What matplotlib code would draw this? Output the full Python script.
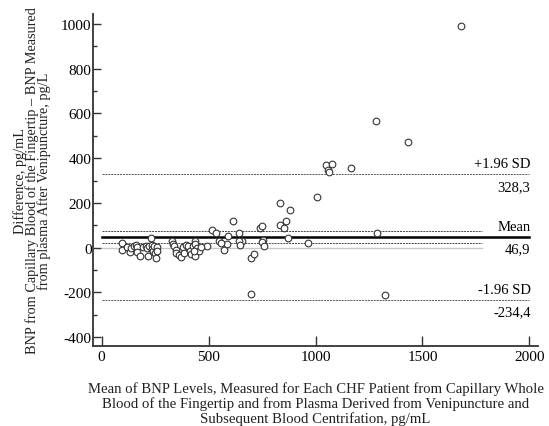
import matplotlib
matplotlib.use("Agg")
import matplotlib.pyplot as plt
from matplotlib.ticker import MultipleLocator

plt.rcParams['font.family'] = ['Liberation Serif', 'DejaVu Serif']
plt.rcParams['axes.unicode_minus'] = False

# mean of the two methods (x) and their difference (y), pg/mL
mean_bnp = [
    1682, 1282, 1433, 1048, 1079, 1058, 1064, 1164, 1009, 832, 880, 860,
    836, 853, 871, 1288, 1326, 964, 699, 699, 712, 615, 643, 740, 748,
    755, 748, 757, 657, 643, 646, 592, 584, 570, 550, 556, 514, 533, 495,
    329, 332, 338, 346, 350, 360, 369, 379, 386, 394, 402, 413, 420, 428,
    436, 439, 438, 448, 456, 464, 434,
    97, 97, 121, 132, 136, 151, 160, 164, 167, 182, 195, 207, 213, 218,
    223, 229, 234, 237, 241, 246, 249, 254, 257, 257,
]
diff_bnp = [
    990, 565, 471, 371, 373, 349, 337, 355, 228, 198, 167, 121,
    100, 88, 45, 66, -213, 19, -206, -46, -27, 118, 66, 86, 98,
    36, 27, 7, 28, 28, 12, 54, 15, -12, 31, 19, 78, 66, 6,
    28, 16, 6, -9, -24, -33, -40, 1, -25, 12, 9, -16, -28, 6,
    31, 16, -36, -3, -13, 4, -13,
    22, -12, 3, -21, 0, 9, 12, 3, -21, -36, 1, 6, 0, -39,
    9, 45, 12, -6, -15, 6, -24, -48, 1, -13,
]

mean_diff = 46.9
upper_loa = 328.3
lower_loa = -234.4
mean_ci = [19, 73]

fig = plt.figure(figsize=(5.49, 4.27), dpi=100)
ax = fig.add_axes([0.1694, 0.1874, 0.8106, 0.7775])

# reference lines
ax.plot([0, 1780], [0, 0], color='#c8c8c8', lw=1.0, zorder=1)
for c in mean_ci:
    ax.plot([0, 1780], [c, c], color='#444444', lw=0.7,
            linestyle=(0, (2, 1)), zorder=1)
ax.plot([0, 2000], [mean_diff, mean_diff], color='black', lw=1.8, zorder=2)
for v in (upper_loa, lower_loa):
    ax.plot([0, 2000], [v, v], color='#555555', lw=0.7,
            linestyle=(0, (2, 1)), zorder=1)

ax.scatter(mean_bnp, diff_bnp, s=23, facecolors='white',
           edgecolors='#333333', linewidths=0.8, zorder=3)

# line labels on the right
lab_x = 2005
fs = 11
for v, top, bottom in [(upper_loa, '+1.96 SD', '328,3'),
                       (mean_diff, 'Mean', '46,9'),
                       (lower_loa, '-1.96 SD', '-234,4')]:
    ax.annotate(top, (lab_x, v), xytext=(0, 3), textcoords='offset points',
                ha='right', va='bottom', fontsize=10.5)
    ax.annotate(bottom, (lab_x, v), xytext=(0, -4), textcoords='offset points',
                ha='right', va='top', fontsize=10.5)

ax.set_xlim(-40, 2040)
ax.set_ylim(-440, 1045)
ax.xaxis.set_major_locator(MultipleLocator(500))
ax.yaxis.set_major_locator(MultipleLocator(200))
ax.yaxis.set_minor_locator(MultipleLocator(100))
ax.set_yticks(range(-400, 1001, 200))

for side in ('top', 'right'):
    ax.spines[side].set_visible(False)
for side in ('left', 'bottom'):
    ax.spines[side].set_color('#333333')
    ax.spines[side].set_linewidth(1.3)

ax.tick_params(axis='y', which='major', direction='in', length=6, width=1.0,
               pad=1, labelsize=fs, colors='#333333', labelcolor='black')
ax.tick_params(axis='y', which='minor', direction='in', length=3, width=1.0,
               colors='#333333')
ax.tick_params(axis='x', which='major', direction='in', length=7, width=1.0,
               pad=3, labelsize=fs, colors='#333333', labelcolor='black')

ax.set_xlabel('Mean of BNP Levels, Measured for Each CHF Patient from Capillary Whole\n'
              'Blood of the Fingertip and from Plasma Derived from Venipuncture and\n'
              'Subsequent Blood Centrifation, pg/mL',
              fontsize=10.6, linespacing=1.1, labelpad=13, color='#222222')
ax.set_ylabel('Difference, pg/mL\n'
              'BNP from Capillary Blood of the Fingertip \u2013 BNP Measured\n'
              'from plasma After Venipuncture, pg/L',
              fontsize=10.3, linespacing=0.85, labelpad=7, color='#222222')

fig.savefig('out.png', dpi=100)
